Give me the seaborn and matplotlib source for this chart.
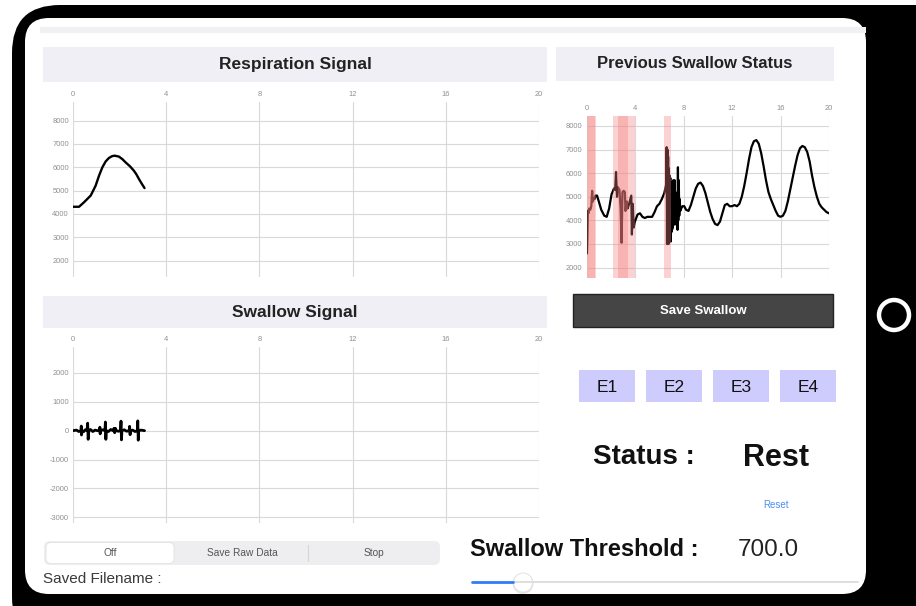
import numpy as np
import pandas as pd
import matplotlib.pyplot as plt
import seaborn as sns
from matplotlib.patches import FancyBboxPatch, Rectangle, Circle

# ===================== data =====================
x_ticks = [0, 4, 8, 12, 16, 20]
resp_yticks = [2000, 3000, 4000, 5000, 6000, 7000, 8000]
swallow_yticks = [-3000, -2000, -1000, 0, 1000, 2000]

# respiration signal (first ~3 s)
resp_t = [0.0, 0.26, 0.47, 0.76, 0.97, 1.12, 1.26, 1.4, 1.54, 1.68, 1.79, 1.97, 2.12, 2.26, 2.45, 2.61, 2.72, 2.83, 2.95, 3.07]
resp_v = [4310, 4310, 4500, 4790, 5210, 5650, 6000, 6250, 6400, 6480, 6500, 6460, 6350, 6210, 6040, 5860, 5700, 5500, 5300, 5110]

# swallow signal (first ~3 s)
swallow_t = [0.0, 0.15, 0.25, 0.34, 0.355, 0.365, 0.38, 0.45, 0.52, 0.6, 0.63, 0.65, 0.68, 0.75, 0.85, 0.95,
             1.05, 1.14, 1.155, 1.165, 1.18, 1.28, 1.37, 1.39, 1.41, 1.43, 1.52, 1.62, 1.72, 1.76, 1.79,
             1.82, 1.86, 1.95, 2.04, 2.06, 2.08, 2.1, 2.2, 2.3, 2.41, 2.43, 2.45, 2.47, 2.56, 2.66, 2.76,
             2.78, 2.8, 2.82, 2.92, 3.07]
swallow_v = [0, 20, -30, 0, 160, -150, 0, -40, 30, 0, 260, -300, 0, 40, -30, 20,
             0, 0, 120, -110, 0, 30, 0, 300, -300, 0, -30, 40, 0, 80, -70,
             80, 0, -20, 0, 330, -320, 0, 30, -20, 0, 150, -140, 0, 20, -30, 0,
             340, -330, 0, 20, 0]

# previous swallow status (20 s)
status_t = [0.0, 0.02, 0.06, 0.1, 0.15, 0.2, 0.3, 0.38, 0.45, 0.5, 0.58, 0.65, 0.72, 0.85, 1.0, 1.2,
            1.45, 1.65, 1.85, 2.05, 2.25, 2.35, 2.42, 2.5, 2.58, 2.7, 2.8, 2.88, 2.95, 3.05, 3.15, 3.2,
            3.3, 3.38, 3.5, 3.6, 3.68, 3.73, 3.8, 3.88, 3.95, 4.05, 4.2, 4.4, 4.6, 4.8, 5.0, 5.2,
            5.4, 5.6, 5.8, 6.0, 6.2, 6.4, 6.55,
            6.6, 6.63, 6.66, 6.69, 6.72, 6.75, 6.78, 6.81, 6.84, 6.87, 6.9, 6.93, 6.96, 6.99, 7.02,
            7.05, 7.08, 7.11, 7.14, 7.17, 7.2, 7.23, 7.26, 7.29, 7.32, 7.35, 7.38, 7.42, 7.46, 7.5,
            7.53, 7.56, 7.6, 7.64, 7.68, 7.72, 7.8,
            7.9, 8.05, 8.2, 8.4, 8.6, 8.8, 9.0, 9.2, 9.4, 9.6, 9.8, 10.0, 10.2, 10.4, 10.6, 10.8,
            11.0, 11.2, 11.4, 11.6, 11.8, 12.0, 12.2, 12.4, 12.6, 12.8, 13.0, 13.2, 13.4, 13.6, 13.8,
            14.0, 14.2, 14.4, 14.6, 14.8, 15.0, 15.2, 15.4, 15.6, 15.8, 16.0, 16.2, 16.4, 16.6, 16.8,
            17.0, 17.2, 17.4, 17.6, 17.8, 18.0, 18.2, 18.4, 18.6, 18.8, 19.0, 19.2, 19.4, 19.6, 19.8, 20.0]
status_v = [4350, 2600, 3200, 4400, 4300, 4500, 4450, 4600, 5250, 4800, 4950, 4900, 5050, 5050, 4800, 4450,
            4200, 4150, 4500, 5100, 5350, 5300, 6050, 5000, 5400, 5300, 4500, 3050, 5200, 5250, 5200, 4400,
            4800, 4500, 4700, 4900, 5050, 3400, 4700, 3700, 3900, 4050, 4250, 4300, 4150, 4100, 4150, 4150,
            4150, 4350, 4600, 4700, 4900, 5150, 5500,
            7100, 3000, 7000, 3200, 6700, 3000, 6200, 3100, 5900, 3300, 5800, 3100, 5600, 3500, 5500,
            3600, 5400, 3700, 5700, 3800, 5300, 4000, 5700, 3900, 5200, 4100, 5000, 3800, 5100, 3600,
            6250, 4000, 5700, 4200, 4900, 4400, 4500,
            4600, 4600, 4450, 4400, 4650, 5000, 5350, 5550, 5600, 5450, 5150, 4750, 4350, 4050, 3850, 3800,
            3950, 4300, 4650, 4700, 4600, 4600, 4650, 4600, 4700, 5000, 5450, 6000, 6600, 7100, 7350,
            7400, 7250, 6850, 6300, 5700, 5200, 4900, 4650, 4400, 4200, 4150, 4200, 4400, 4800, 5300,
            5800, 6300, 6750, 7050, 7150, 7100, 6900, 6500, 5900, 5400, 5000, 4700, 4550, 4450, 4350, 4300]

# detected swallow windows (start, end), overlapping ones give the darker bands
swallow_start = [0.0, 0.12, 2.2, 2.62, 6.37]
swallow_end = [0.77, 0.65, 4.0, 3.45, 6.98]

e_buttons = ["E1", "E2", "E3", "E4"]
segments = ["Off", "Save Raw Data", "Stop"]
threshold = 700.0
status_text = "Rest"

# ===================== style =====================
sns.set_theme(style="white")
plt.rcParams['font.family'] = ['Liberation Sans', 'DejaVu Sans']
plt.rcParams['axes.unicode_minus'] = False

W, H = 916, 606
fig = plt.figure(figsize=(W / 100, H / 100), dpi=100)
fig.patch.set_facecolor("white")

# background axes in pixel coordinates for the app "screen"
bg = fig.add_axes([0, 0, 1, 1])
bg.set_xlim(0, W)
bg.set_ylim(H, 0)
bg.axis("off")

# tablet frame
bg.add_patch(FancyBboxPatch((12, 5), 960, 640, boxstyle="round,pad=0,rounding_size=48",
                            fc="black", ec="none"))
bg.add_patch(FancyBboxPatch((25, 18), 841, 576, boxstyle="round,pad=0,rounding_size=24",
                            fc="white", ec="none"))
bg.add_patch(Rectangle((40, 27), 826, 6, fc="#f1f1f3", ec="none"))
bg.add_patch(Circle((894, 315), 15, fill=False, ec="white", lw=3.2))

# panel headers
header_col = "#efeff5"
bg.add_patch(Rectangle((43, 47), 504, 35, fc=header_col, ec="none"))
bg.add_patch(Rectangle((43, 296), 504, 32, fc=header_col, ec="none"))
bg.add_patch(Rectangle((556, 47), 278, 34, fc=header_col, ec="none"))
bg.text(295, 65, "Respiration Signal", ha="center", va="center", fontsize=12.5, fontweight="bold", color="#222")
bg.text(295, 312, "Swallow Signal", ha="center", va="center", fontsize=12.5, fontweight="bold", color="#222")
bg.text(695, 64, "Previous Swallow Status", ha="center", va="center", fontsize=12, fontweight="bold", color="#222")

# save swallow button
bg.add_patch(Rectangle((573, 294), 260, 33, fc="#454545", ec="#222222", lw=1))
bg.text(703, 311, "Save Swallow", ha="center", va="center", fontsize=9.5, fontweight="bold", color="white")

# E buttons
for i, lab in enumerate(e_buttons):
    x0 = 579 + i * 67
    bg.add_patch(Rectangle((x0, 370), 56, 32, fc="#cdccfc", ec="none"))
    bg.text(x0 + 28, 387, lab, ha="center", va="center", fontsize=12.5, color="#111")

# status
bg.text(593, 457, "Status :", ha="left", va="center", fontsize=20, fontweight="bold", color="#111")
bg.text(776, 458, status_text, ha="center", va="center", fontsize=22, fontweight="bold", color="#111")
bg.text(776, 505, "Reset", ha="center", va="center", fontsize=7, color="#4a8ff0")

# segmented control + filename
bg.add_patch(FancyBboxPatch((44, 541), 396, 24, boxstyle="round,pad=0,rounding_size=6",
                            fc="#eeeef0", ec="none"))
bg.add_patch(FancyBboxPatch((46, 542.5), 128, 21, boxstyle="round,pad=0,rounding_size=5",
                            fc="white", ec="#e2e2e2", lw=0.6))
bg.plot([308, 308], [545, 561], color="#d6d6d6", lw=0.8)
for xc, lab in zip([110, 242, 374], segments):
    bg.text(xc, 553, lab, ha="center", va="center", fontsize=7.3, color="#555")
bg.text(43, 579, "Saved Filename :", ha="left", va="center", fontsize=11, color="#3a3a3a")

# threshold + slider
bg.text(470, 550, "Swallow Threshold :", ha="left", va="center", fontsize=17, fontweight="bold", color="#111")
bg.text(738, 550, f"{threshold:.1f}", ha="left", va="center", fontsize=17.5, color="#222")
bg.plot([513, 858], [582, 582], color="#dcdcdc", lw=1.3, solid_capstyle="round")
bg.plot([472, 513], [582, 582], color="#2f7cf6", lw=2, solid_capstyle="round")
bg.add_patch(Circle((523, 583.5), 10.5, fc="#e6e6e6", ec="none"))
bg.add_patch(Circle((523, 582.5), 9.5, fc="white", ec="#e0e0e0", lw=0.6))


# ===================== chart axes =====================
def px_axes(x0, y0, x1, y1):
    return fig.add_axes([x0 / W, 1 - y1 / H, (x1 - x0) / W, (y1 - y0) / H])


def style_axes(ax, yticks, ylim):
    ax.set_facecolor("none")
    ax.set_xlim(0, 20)
    ax.set_ylim(*ylim)
    ax.set_xticks(x_ticks)
    ax.set_yticks(yticks)
    ax.xaxis.tick_top()
    ax.tick_params(axis="both", length=0, labelsize=5.4, labelcolor="#8f8f8f", pad=3)
    ax.grid(True, color="#d9d9d9", lw=0.8)
    for s in ax.spines.values():
        s.set_visible(False)
    ax.set_xlabel("")
    ax.set_ylabel("")


resp_df = pd.DataFrame({"t": resp_t, "v": resp_v})
swallow_df = pd.DataFrame({"t": swallow_t, "v": swallow_v})
status_df = pd.DataFrame({"t": status_t, "v": status_v})

ax1 = px_axes(73, 102, 539, 277)
sns.lineplot(data=resp_df, x="t", y="v", ax=ax1, color="black", lw=1.7, sort=False, estimator=None)
style_axes(ax1, resp_yticks, (1300, 8800))

ax2 = px_axes(73, 347, 539, 523)
sns.lineplot(data=swallow_df, x="t", y="v", ax=ax2, color="black", lw=2.0, sort=False, estimator=None)
style_axes(ax2, swallow_yticks, (-3200, 2900))

ax3 = px_axes(586.7, 116, 829, 278)
sns.lineplot(data=status_df, x="t", y="v", ax=ax3, color="black", lw=1.6, sort=False, estimator=None)
for a, b in zip(swallow_start, swallow_end):
    ax3.axvspan(a, b, color="#f47c7c", alpha=0.35, lw=0, zorder=3)
style_axes(ax3, resp_yticks, (1560, 8420))

fig.savefig("out.png", dpi=100)
